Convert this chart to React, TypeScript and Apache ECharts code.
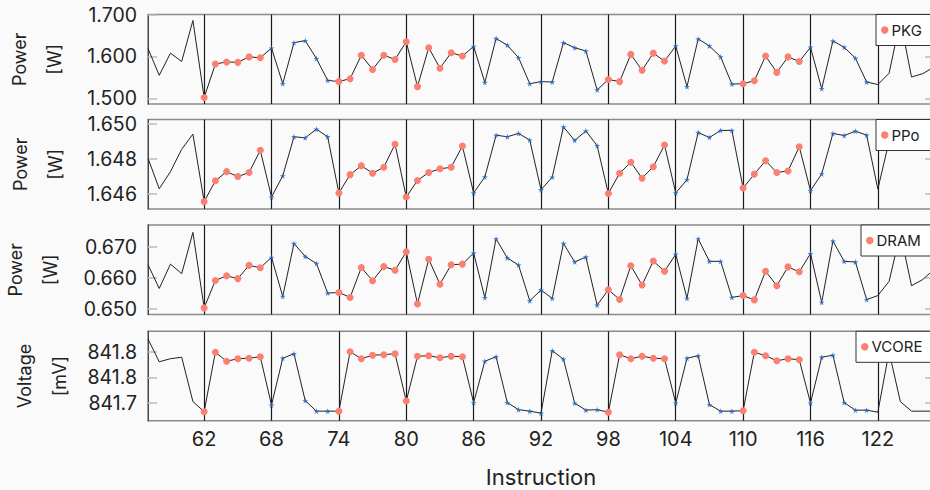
import React, { useEffect, useRef } from "react";
import * as echarts from "echarts";

// x positions: instructions 57 .. 127
const xStart = 57;
const xEnd = 127;
const groupStarts = [62, 68, 74, 80, 86, 92, 98, 104, 110, 116];
const groupKinds = ["orange", "blue", "orange", "orange", "blue", "blue", "orange", "blue", "orange", "blue"];
const groupSize = 6;
const boundaryTicks = [62, 68, 74, 80, 86, 92, 98, 104, 110, 116, 122];

const pkg = [
  1.619, 1.555, 1.608, 1.588, 1.686, 1.502, 1.582, 1.587, 1.586, 1.599, 1.597,
  1.620, 1.535, 1.633, 1.638, 1.595, 1.543, 1.540, 1.547, 1.603, 1.569, 1.603,
  1.593, 1.635, 1.528, 1.621, 1.572, 1.609, 1.601, 1.624, 1.538, 1.643, 1.627,
  1.597, 1.535, 1.540, 1.539, 1.633, 1.621, 1.613, 1.520, 1.545, 1.540, 1.605,
  1.567, 1.608, 1.589, 1.625, 1.528, 1.642, 1.625, 1.599, 1.534, 1.535, 1.542,
  1.601, 1.562, 1.599, 1.588, 1.622, 1.523, 1.637, 1.622, 1.596, 1.539, 1.533,
  1.560, 1.687, 1.551, 1.559, 1.575,
];
const ppo = [
  1.64803, 1.6463, 1.64727, 1.64854, 1.6494, 1.64557, 1.64675, 1.64727, 1.64699, 1.64722, 1.64848,
  1.64583, 1.64703, 1.64925, 1.64919, 1.64968, 1.64925, 1.64606, 1.6471, 1.64761, 1.64718, 1.64752,
  1.64883, 1.64583, 1.64677, 1.64722, 1.64743, 1.64752, 1.64872, 1.64606, 1.64697, 1.64934, 1.64925,
  1.64944, 1.64906, 1.64624, 1.64696, 1.64981, 1.64904, 1.64958, 1.64874, 1.64603, 1.64718, 1.6478,
  1.6469, 1.64755, 1.64878, 1.64606, 1.64681, 1.64949, 1.64921, 1.64961, 1.64961, 1.64634, 1.64713,
  1.64789, 1.64722, 1.64731, 1.64868, 1.64619, 1.64714, 1.64944, 1.64932, 1.64957, 1.64934, 1.64628,
  1.649, 1.6496, 1.6492, 1.6493, 1.6494,
];
const dram = [
  0.6643, 0.6566, 0.6645, 0.6614, 0.6748, 0.6503, 0.6592, 0.6607, 0.6598, 0.6641, 0.6633,
  0.6667, 0.654, 0.6712, 0.667, 0.6647, 0.6551, 0.6553, 0.6537, 0.6634, 0.6591, 0.6637,
  0.6625, 0.6685, 0.6516, 0.6661, 0.658, 0.6643, 0.6645, 0.6681, 0.6536, 0.6727, 0.6665,
  0.6642, 0.6526, 0.6561, 0.6534, 0.6712, 0.6652, 0.6668, 0.6512, 0.6562, 0.653, 0.664,
  0.6577, 0.6655, 0.6622, 0.6677, 0.6534, 0.6727, 0.6654, 0.6654, 0.6537, 0.6543, 0.6529,
  0.6622, 0.6575, 0.6636, 0.662, 0.6679, 0.6521, 0.672, 0.6654, 0.6652, 0.653, 0.6543,
  0.6589, 0.6745, 0.6575, 0.6595, 0.6628,
];
const vcore = [
  841.826, 841.781, 841.787, 841.79, 841.702, 841.682, 841.8, 841.782, 841.787, 841.788, 841.791,
  841.695, 841.788, 841.797, 841.704, 841.683, 841.683, 841.683, 841.801, 841.787, 841.794, 841.795,
  841.797, 841.703, 841.792, 841.793, 841.789, 841.792, 841.791, 841.7, 841.782, 841.791, 841.7,
  841.686, 841.683, 841.679, 841.803, 841.786, 841.699, 841.685, 841.686, 841.681, 841.795, 841.787,
  841.792, 841.788, 841.787, 841.699, 841.788, 841.793, 841.696, 841.683, 841.683, 841.684, 841.8,
  841.793, 841.783, 841.787, 841.785, 841.699, 841.79, 841.794, 841.7, 841.685, 841.685, 841.681,
  841.801, 841.702, 841.683, 841.683, 841.683,
];

const pkgTicks = [1.5, 1.6, 1.7];
const ppoTicks = [1.646, 1.648, 1.65];
const dramTicks = [0.65, 0.66, 0.67];
const vcoreTicks = [841.7, 841.75, 841.8];

const panels = [
  { name: "PKG", yName: "Power\n[W]", values: pkg, ticks: pkgTicks, min: 1.4865, max: 1.7003, digits: 3 },
  { name: "PPo", yName: "Power\n[W]", values: ppo, ticks: ppoTicks, min: 1.64515, max: 1.65023, digits: 3 },
  { name: "DRAM", yName: "Power\n[W]", values: dram, ticks: dramTicks, min: 0.64816, max: 0.67719, digits: 3 },
  { name: "VCORE", yName: "Voltage\n[mV]", values: vcore, ticks: vcoreTicks, min: 841.6639, max: 841.8414, digits: 1 },
];

// layout
const gridTops = [14.5, 119.5, 225, 331.3];
const gridHeight = 89.5;
const gridLeft = 148;
const gridRight = -4;
const nameGaps = [76, 74.7, 79.7, 71.3];
const legendLefts = [876, 876, 861, 856];

const ORANGE = "#fa8072";
const BLUE = "#1f63c6";
const STAR = "path://M50,0 L61,35 L98,35 L68,57 L79,91 L50,70 L21,91 L32,57 L2,35 L39,35 Z";
const FONT = "Inter";

function groupPoints(values: number[], kind: string) {
  const pts: number[][] = [];
  groupStarts.forEach((s, gi) => {
    if (groupKinds[gi] !== kind) return;
    for (let k = 0; k < groupSize; k++) {
      const x = s + k;
      pts.push([x, values[x - xStart]]);
    }
  });
  return pts;
}

export default function App() {
  const ref = useRef<HTMLDivElement>(null);
  useEffect(() => {
    if (!ref.current) return;
    const chart = echarts.init(ref.current, null, { renderer: "svg" });
    const grid: any[] = [];
    const xAxis: any[] = [];
    const yAxis: any[] = [];
    const series: any[] = [];
    const legend: any[] = [];
    panels.forEach((p, i) => {
      grid.push({
        left: gridLeft,
        right: gridRight,
        top: gridTops[i],
        height: gridHeight,
        outerBoundsMode: "none",
        containLabel: false,
        show: true,
        backgroundColor: "#fafafa",
        borderColor: "#8a8a8a",
        borderWidth: 1.6,
      });
      const isBottom = i === panels.length - 1;
      xAxis.push({
        type: "value",
        gridIndex: i,
        min: xStart,
        max: xEnd,
        axisLine: { show: false },
        axisTick: { show: false },
        splitLine: { show: false },
        axisLabel: isBottom
          ? { show: true, customValues: boundaryTicks, fontSize: 20, color: "#222", fontFamily: FONT, margin: 8 }
          : { show: false },
        name: isBottom ? "Instruction" : "",
        nameLocation: "middle",
        nameGap: 45,
        nameMoveOverlap: false,
        nameTextStyle: { fontSize: 22, color: "#222", fontFamily: FONT },
      });
      yAxis.push({
        type: "value",
        gridIndex: i,
        min: p.min,
        max: p.max,
        position: "left",
        axisLine: { show: true, lineStyle: { color: "#444", width: 1 } },
        axisTick: { show: true, inside: true, length: 9, customValues: p.ticks, lineStyle: { color: "#bbb", width: 1.5 } },
        splitLine: { show: false },
        axisLabel: {
          show: true,
          customValues: p.ticks,
          formatter: (v: number) => v.toFixed(p.digits),
          fontSize: 19.5,
          color: "#222",
          fontFamily: FONT,
          margin: 11,
        },
        name: p.yName,
        nameLocation: "middle",
        nameGap: nameGaps[i],
        nameMoveOverlap: false,
        nameTextStyle: { fontSize: 18, lineHeight: 35, color: "#222", fontFamily: FONT },
      });
      yAxis.push({
        type: "value",
        gridIndex: i,
        min: p.min,
        max: p.max,
        position: "right",
        axisLine: { show: false },
        axisTick: { show: true, inside: true, length: 9, customValues: p.ticks, lineStyle: { color: "#bbb", width: 1.5 } },
        splitLine: { show: false },
        axisLabel: { show: false },
      });
      const line = p.values.map((v, k) => [xStart + k, v]);
      series.push({
        type: "line",
        name: p.name + " trace",
        xAxisIndex: i,
        yAxisIndex: 2 * i,
        data: line,
        showSymbol: false,
        symbol: "none",
        lineStyle: { color: "#222", width: 1 },
        z: 3,
        markLine: {
          silent: true,
          symbol: ["none", "none"],
          label: { show: false },
          lineStyle: { color: "#1a1a1a", width: 1.2, type: "solid" },
          data: boundaryTicks.map((t) => ({ xAxis: t })),
          z: 2,
        },
      });
      series.push({
        type: "scatter",
        name: p.name,
        xAxisIndex: i,
        yAxisIndex: 2 * i,
        data: groupPoints(p.values, "orange"),
        symbol: "circle",
        symbolSize: 7,
        itemStyle: { color: ORANGE, opacity: 1 },
        z: 4,
      });
      series.push({
        type: "scatter",
        name: p.name + " other",
        xAxisIndex: i,
        yAxisIndex: 2 * i,
        data: groupPoints(p.values, "blue"),
        symbol: STAR,
        symbolSize: 6,
        itemStyle: { color: BLUE },
        z: 4,
      });
      legend.push({
        data: [{ name: p.name, icon: "circle" }],
        left: legendLefts[i],
        top: gridTops[i],
        itemWidth: 7.5,
        itemHeight: 7.5,
        itemGap: 6,
        backgroundColor: "#ffffff",
        borderColor: "#333",
        borderWidth: 1,
        borderRadius: 0,
        padding: [8, 12, 8, 5],
        textStyle: { fontSize: 15, color: "#222", fontFamily: FONT, padding: [0, 0, 0, -2] },
        z: 10,
      });
    });
    chart.setOption({
      animation: false,
      backgroundColor: "#fafafa",
      textStyle: { fontFamily: FONT },
      grid,
      xAxis,
      yAxis,
      series,
      legend,
    });
    return () => chart.dispose();
  }, []);
  return (
    <div
      ref={ref}
      style={{ position: "fixed", left: 0, top: 0, width: 930, height: 490, background: "#fafafa" }}
    />
  );
}
